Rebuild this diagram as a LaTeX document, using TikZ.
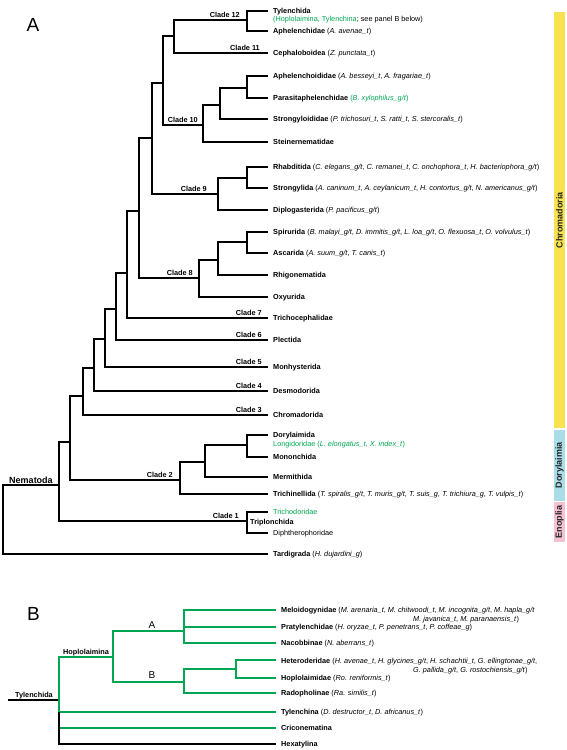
\documentclass[tikz,border=0pt]{standalone}
\usepackage{fontspec}
\setmainfont{Liberation Sans}
\definecolor{tgreen}{RGB}{0,166,81}
\definecolor{colchr}{RGB}{248,227,79}
\definecolor{coldor}{RGB}{169,221,232}
\definecolor{coleno}{RGB}{245,194,211}
\newcommand{\spn}[1]{\textit{#1}}
\begin{document}
\begin{tikzpicture}[x=1pt,y=-1pt,
  edge/.style={line width=1.2pt,line join=miter},
  gedge/.style={edge,draw=tgreen},
  lab/.style={anchor=base west,inner sep=0pt,font=\fontsize{7.3}{8.8}\selectfont},
  clade/.style={anchor=base east,inner sep=0pt,font=\bfseries\fontsize{7.3}{8.8}\selectfont},
  barlab/.style={rotate=90,inner sep=0pt,font=\bfseries\fontsize{9}{11}\selectfont,text=black!85},
  big/.style={anchor=base,inner sep=0pt,font=\fontsize{19}{22}\selectfont}]
\useasboundingbox (0,0) rectangle (567,750);

% ---------- Panel A ----------
\node[big] (pA) at (33,31) {A};

% tips
\coordinate (tTyl) at (268,11);
\coordinate (tAph) at (268,31);
\coordinate (tCep) at (268,53);
\coordinate (tApo) at (268,76);
\coordinate (tPar) at (268,98);
\coordinate (tStr) at (268,119);
\coordinate (tSte) at (268,142);
\coordinate (tRha) at (268,167);
\coordinate (tSgy) at (268,188);
\coordinate (tDip) at (268,210);
\coordinate (tSpi) at (268,232);
\coordinate (tAsc) at (268,253);
\coordinate (tRhi) at (268,275);
\coordinate (tOxy) at (268,297);
\coordinate (tTri) at (268,318);
\coordinate (tPle) at (268,340);
\coordinate (tMon) at (268,367);
\coordinate (tDes) at (268,391);
\coordinate (tChr) at (268,415);
\coordinate (tDor) at (268,435);
\coordinate (tMno) at (268,457);
\coordinate (tMer) at (268,477);
\coordinate (tTrn) at (268,494);
\coordinate (tTrd) at (268,512);
\coordinate (tDph) at (268,533);
\coordinate (tTar) at (268,554);

% internal nodes
\coordinate (root) at (3,519);
\coordinate (nNem) at (59,485);
\coordinate (nC) at (70,442);
\coordinate (nK2) at (180,480);
\coordinate (nK2a) at (205,462);
\coordinate (nK2b) at (247,445);
\coordinate (nK1) at (247,521);
\coordinate (n3) at (83,396);
\coordinate (n4) at (94,368);
\coordinate (n5) at (105,339);
\coordinate (n6) at (116,309);
\coordinate (n7) at (127,273);
\coordinate (n8) at (139,211);
\coordinate (n9) at (152,138);
\coordinate (n10) at (163,83);
\coordinate (n11) at (174,36);
\coordinate (nK12) at (247,20);
\coordinate (nK10) at (203,125);
\coordinate (nK10a) at (220,105);
\coordinate (nK10b) at (247,88);
\coordinate (nK9) at (218,194);
\coordinate (nK9a) at (247,178);
\coordinate (nK8) at (199,278);
\coordinate (nK8a) at (218,260);
\coordinate (nK8b) at (247,242);

\draw[edge] (root) |- (nNem);  \draw[edge] (root) |- (tTar);
\draw[edge] (nNem) |- (nC);    \draw[edge] (nNem) |- (nK1);
\draw[edge] (nC) |- (n3);      \draw[edge] (nC) |- (nK2);
\draw[edge] (nK2) |- (nK2a);   \draw[edge] (nK2) |- (tTrn);
\draw[edge] (nK2a) |- (nK2b);  \draw[edge] (nK2a) |- (tMer);
\draw[edge] (nK2b) |- (tDor);  \draw[edge] (nK2b) |- (tMno);
\draw[edge] (nK1) |- (tTrd);   \draw[edge] (nK1) |- (tDph);
\draw[edge] (n3) |- (n4);      \draw[edge] (n3) |- (tChr);
\draw[edge] (n4) |- (n5);      \draw[edge] (n4) |- (tDes);
\draw[edge] (n5) |- (n6);      \draw[edge] (n5) |- (tMon);
\draw[edge] (n6) |- (n7);      \draw[edge] (n6) |- (tPle);
\draw[edge] (n7) |- (n8);      \draw[edge] (n7) |- (tTri);
\draw[edge] (n8) |- (n9);      \draw[edge] (n8) |- (nK8);
\draw[edge] (n9) |- (n10);     \draw[edge] (n9) |- (nK9);
\draw[edge] (n10) |- (n11);    \draw[edge] (n10) |- (nK10);
\draw[edge] (n11) |- (nK12);   \draw[edge] (n11) |- (tCep);
\draw[edge] (nK12) |- (tTyl);  \draw[edge] (nK12) |- (tAph);
\draw[edge] (nK10) |- (nK10a); \draw[edge] (nK10) |- (tSte);
\draw[edge] (nK10a) |- (nK10b);\draw[edge] (nK10a) |- (tStr);
\draw[edge] (nK10b) |- (tApo); \draw[edge] (nK10b) |- (tPar);
\draw[edge] (nK9) |- (nK9a);   \draw[edge] (nK9) |- (tDip);
\draw[edge] (nK9a) |- (tRha);  \draw[edge] (nK9a) |- (tSgy);
\draw[edge] (nK8) |- (nK8a);   \draw[edge] (nK8) |- (tOxy);
\draw[edge] (nK8a) |- (nK8b);  \draw[edge] (nK8a) |- (tRhi);
\draw[edge] (nK8b) |- (tSpi);  \draw[edge] (nK8b) |- (tAsc);

% clade labels
\node[clade] (c12) at (240,17.5) {Clade 12};
\node[clade] (c11) at (260,50.5) {Clade 11};
\node[clade] (c10) at (198,122.5) {Clade 10};
\node[clade] (c9) at (207,191.5) {Clade 9};
\node[clade] (c8) at (193,275.5) {Clade 8};
\node[clade] (c7) at (262,315.5) {Clade 7};
\node[clade] (c6) at (262,337.5) {Clade 6};
\node[clade] (c5) at (262,364.5) {Clade 5};
\node[clade] (c4) at (262,388.5) {Clade 4};
\node[clade] (c3) at (262,412.5) {Clade 3};
\node[clade] (c2) at (173,477.5) {Clade 2};
\node[clade] (c1) at (239,518.5) {Clade 1};
\node[anchor=base,inner sep=0pt,font=\bfseries\fontsize{9}{11}\selectfont] (lNem) at (31,483) {Nematoda};

% tip labels
\node[lab] (lTyl) at (273,13.6) {\textbf{Tylenchida}};
\node[lab] (lTyl2) at (273,21.6) {{\color{tgreen}(Hoplolaimina, Tylenchina}; see panel B below)};
\node[lab] (lAph) at (273,33.6) {\textbf{Aphelenchidae} (\spn{A. avenae\_t})};
\node[lab] (lCep) at (273,55.6) {\textbf{Cephaloboidea} (\spn{Z. punctata\_t})};
\node[lab] (lApo) at (273,78.6) {\textbf{Aphelenchoididae} (\spn{A. besseyi\_t}, \spn{A. fragariae\_t})};
\node[lab] (lPar) at (273,100.6) {\textbf{Parasitaphelenchidae} {\color{tgreen}(\spn{B. xylophilus\_g/t})}};
\node[lab] (lStr) at (273,121.6) {\textbf{Strongyloididae} (\spn{P. trichosuri\_t}, \spn{S. ratti\_t}, \spn{S. stercoralis\_t})};
\node[lab] (lSte) at (273,144.6) {\textbf{Steinernematidae}};
\node[lab] (lRha) at (273,169.6) {\textbf{Rhabditida} (\spn{C. elegans\_g/t}, \spn{C. remanei\_t}, \spn{C. onchophora\_t}, \spn{H. bacteriophora\_g/t})};
\node[lab] (lSgy) at (273,190.6) {\textbf{Strongylida} (\spn{A. caninum\_t}, \spn{A. ceylanicum\_t}, \spn{H. contortus\_g/t}, \spn{N. americanus\_g/t})};
\node[lab] (lDip) at (273,212.6) {\textbf{Diplogasterida} (\spn{P. pacificus\_g/t})};
\node[lab] (lSpi) at (273,234.6) {\textbf{Spirurida} (\spn{B. malayi\_g/t}, \spn{D. immitis\_g/t}, \spn{L. loa\_g/t}, \spn{O. flexuosa\_t}, \spn{O. volvulus\_t})};
\node[lab] (lAsc) at (273,255.6) {\textbf{Ascarida} (\spn{A. suum\_g/t}, \spn{T. canis\_t})};
\node[lab] (lRhi) at (273,277.6) {\textbf{Rhigonematida}};
\node[lab] (lOxy) at (273,299.6) {\textbf{Oxyurida}};
\node[lab] (lTri) at (273,320.6) {\textbf{Trichocephalidae}};
\node[lab] (lPle) at (273,342.6) {\textbf{Plectida}};
\node[lab] (lMon) at (273,369.6) {\textbf{Monhysterida}};
\node[lab] (lDes) at (273,393.6) {\textbf{Desmodorida}};
\node[lab] (lChr) at (273,417.6) {\textbf{Chromadorida}};
\node[lab] (lDor) at (273,437.6) {\textbf{Dorylaimida}};
\node[lab] (lLon) at (273,446.6) {{\color{tgreen}Longidoridae (\spn{L. elongatus\_t}, \spn{X. index\_t})}};
\node[lab] (lMno) at (273,459.6) {\textbf{Mononchida}};
\node[lab] (lMer) at (273,479.6) {\textbf{Mermithida}};
\node[lab] (lTrn) at (273,496.6) {\textbf{Trichinellida} (\spn{T. spiralis\_g/t}, \spn{T. muris\_g/t}, \spn{T. suis\_g}, \spn{T. trichiura\_g}, \spn{T. vulpis\_t})};
\node[lab] (lTrd) at (273,514.6) {{\color{tgreen}Trichodoridae}};
\node[lab] (lTrp) at (250,524.6) {\textbf{Triplonchida}};
\node[lab] (lDph) at (273,535.6) {Diphtherophoridae};
\node[lab] (lTar) at (273,556.6) {\textbf{Tardigrada} (\spn{H. dujardini\_g})};

% side bars
\fill[fill=colchr] (554,12) rectangle (565,428);
\fill[fill=coldor] (554,429.5) rectangle (565,500.5);
\fill[fill=coleno] (554,502) rectangle (565,542);
\node[barlab] (bChr) at (559.5,220) {Chromadoria};
\node[barlab] (bDor) at (559.5,465) {Dorylaimia};
\node[barlab] (bEno) at (559.5,522) {Enoplia};

% ---------- Panel B ----------
\node[big] (pB) at (33.5,620) {B};

\coordinate (tMel) at (276,610);
\coordinate (tPra) at (276,627);
\coordinate (tNac) at (276,643);
\coordinate (tHet) at (276,660);
\coordinate (tHop) at (276,678);
\coordinate (tRad) at (276,693);
\coordinate (tTyn) at (276,712);
\coordinate (tCri) at (276,728);
\coordinate (tHex) at (276,744);

\coordinate (bRoot) at (8,700);
\coordinate (nTB) at (59,700);
\coordinate (nHp) at (113,657);
\coordinate (nA) at (184,631);
\coordinate (nB) at (184,682);
\coordinate (nHH) at (236,669);

\draw[edge] (bRoot) -- (nTB);
\draw[gedge] (nTB) |- (nHp);
\draw[gedge] (nTB) |- (tTyn);
\draw[gedge] (nTB |- tCri) -- (tCri);
\draw[edge] (nTB |- tTyn) |- (tHex);
\draw[gedge] (nHp) |- (nA);
\draw[gedge] (nHp) |- (nB);
\draw[gedge] (nA) |- (tMel);
\draw[gedge] (nA) |- (tPra);
\draw[gedge] (nA) |- (tNac);
\draw[gedge] (nB) |- (nHH);
\draw[gedge] (nB) |- (tRad);
\draw[gedge] (nHH) |- (tHet);
\draw[gedge] (nHH) |- (tHop);

\node[anchor=base,inner sep=0pt,font=\bfseries\fontsize{7.3}{8.8}\selectfont] (lTylB) at (34,697.5) {Tylenchida};
\node[anchor=base,inner sep=0pt,font=\bfseries\fontsize{7.3}{8.8}\selectfont] (lHpB) at (86,654.5) {Hoplolaimina};
\node[anchor=base,inner sep=0pt,font=\fontsize{10}{12}\selectfont] (lA) at (152,628.5) {A};
\node[anchor=base,inner sep=0pt,font=\fontsize{10}{12}\selectfont] (lB) at (152,678.5) {B};

\node[lab] (lMel) at (281,612.6) {\textbf{Meloidogynidae} (\spn{M. arenaria\_t}, \spn{M. chitwoodi\_t}, \spn{M. incognita\_g/t}, \spn{M. hapla\_g/t}};
\node[lab] (lMel2) at (413,621) {\spn{M. javanica\_t}, \spn{M. paranaensis\_t})};
\node[lab] (lPra) at (281,629.6) {\textbf{Pratylenchidae} (\spn{H. oryzae\_t}, \spn{P. penetrans\_t}, \spn{P. coffeae\_g})};
\node[lab] (lNac) at (281,645.6) {\textbf{Nacobbinae} (\spn{N. aberrans\_t})};
\node[lab] (lHet) at (281,663.6) {\textbf{Heteroderidae} (\spn{H. avenae\_t}, \spn{H. glycines\_g/t}, \spn{H. schachtii\_t}, \spn{G. ellingtonae\_g/t},};
\node[lab] (lHet2) at (413,672.5) {\spn{G. pallida\_g/t}, \spn{G. rostochiensis\_g/t})};
\node[lab] (lHop) at (281,680.6) {\textbf{Hoplolaimidae} (\spn{Ro. reniformis\_t})};
\node[lab] (lRad) at (281,695.6) {\textbf{Radopholinae} (\spn{Ra. similis\_t})};
\node[lab] (lTyn) at (281,714.6) {\textbf{Tylenchina} (\spn{D. destructor\_t}, \spn{D. africanus\_t})};
\node[lab] (lCri) at (281,730.6) {\textbf{Criconematina}};
\node[lab] (lHex) at (281,746.6) {\textbf{Hexatylina}};
\end{tikzpicture}
\end{document}
